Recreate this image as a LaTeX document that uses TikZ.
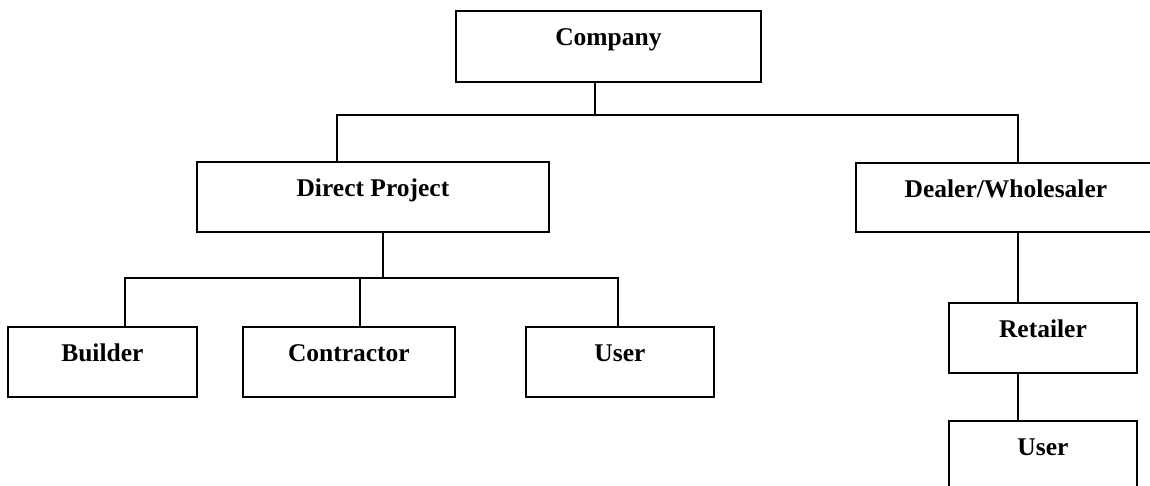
\documentclass[tikz,border=0pt]{standalone}
\usepackage{fontspec}
\setmainfont{Liberation Serif}
\begin{document}
\begin{tikzpicture}[x=1pt,y=-1pt,
  orgbox/.style={draw, line width=1.8pt, rectangle, inner sep=0pt, anchor=north west,
    text height=35pt, font=\fontsize{25.5}{30}\selectfont\bfseries, align=center},
  conn/.style={line width=1.5pt}]
\useasboundingbox (0,0) rectangle (1150,485);
\node[orgbox, minimum width=305pt, text depth=36pt] (company) at (455,10) {Company};
\node[orgbox, minimum width=352pt, text depth=35pt] (direct) at (196,161) {Direct Project};
\node[orgbox, minimum width=300pt, text depth=34pt] (dealer) at (855,162) {Dealer/Wholesaler};
\node[orgbox, minimum width=189pt, text depth=35pt] (builder) at (7,326) {Builder};
\node[orgbox, minimum width=212pt, text depth=35pt] (contractor) at (242,326) {Contractor};
\node[orgbox, minimum width=188pt, text depth=35pt] (user1) at (525,326) {User};
\node[orgbox, minimum width=188pt, text depth=35pt] (retailer) at (948,302) {Retailer};
\node[orgbox, minimum width=188pt, text depth=50pt] (user2) at (948,420) {User};
\coordinate (b1) at (595,115);
\coordinate (b1l) at (337,115);
\coordinate (b1r) at (1018,115);
\coordinate (b2) at (383,278);
\coordinate (b2l) at (125,278);
\coordinate (b2c) at (360,278);
\coordinate (b2r) at (618,278);
\draw[conn] (company.south -| b1) -- (b1);
\draw[conn] (direct.north -| b1l) -- (b1l) -- (b1r) -- (dealer.north -| b1r);
\draw[conn] (direct.south -| b2) -- (b2);
\draw[conn] (builder.north -| b2l) -- (b2l) -- (b2r) -- (user1.north -| b2r);
\draw[conn] (b2c) -- (contractor.north -| b2c);
\draw[conn] (dealer.south -| b1r) -- (retailer.north -| b1r);
\draw[conn] (retailer.south -| b1r) -- (user2.north -| b1r);
\end{tikzpicture}
\end{document}
